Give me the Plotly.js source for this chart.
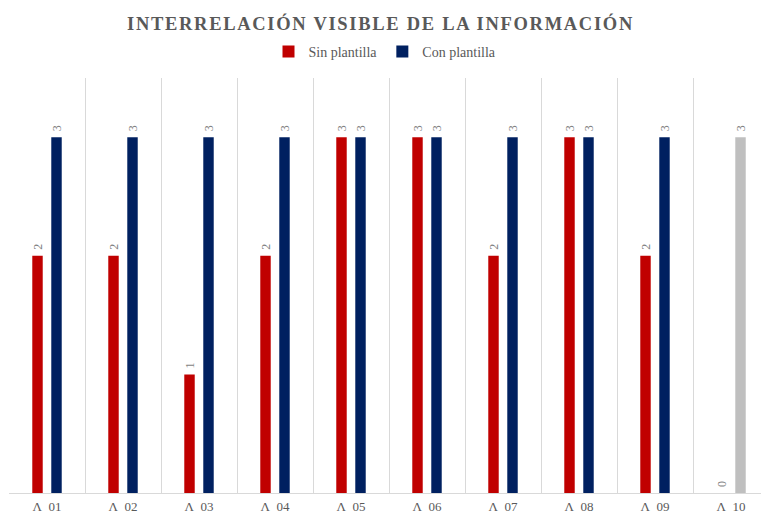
<!DOCTYPE html>
<html>
<head>
<meta charset="utf-8">
<script src="https://cdn.plot.ly/plotly-3.0.1.min.js"></script>
<style>
html,body{margin:0;padding:0;background:#fff;}
#chart{width:761px;height:516px;}
.gtitle{letter-spacing:1.7px;}
</style>
</head>
<body>
<div id="chart"></div>
<script>
var categories = ["Λ 01","Λ 02","Λ 03","Λ 04","Λ 05","Λ 06","Λ 07","Λ 08","Λ 09","Λ 10"];
var sinPlantilla = [2,2,1,2,3,3,2,3,2,0];
var conPlantilla = [3,3,3,3,3,3,3,3,3,3];
var seriesNames = ["Sin plantilla","Con plantilla"];
var chartTitle = "INTERRELACIÓN VISIBLE DE LA INFORMACIÓN";

var RED = "#C00000", NAVY = "#002060", GREY = "#BFBFBF";
var idx = categories.map(function(_, i){ return i; });
var conColors = conPlantilla.map(function(_, i){ return i === categories.length - 1 ? GREY : NAVY; });
var tickText = categories.map(function(c){ return c.replace(" ", "\u00a0\u00a0"); });
var lab = function(v){ return "\u00a0" + v; };

var labelFont = {family: "Liberation Serif, Times New Roman, serif", size: 12, color: "#7F7F7F"};

var traces = [
  {type: "bar", name: seriesNames[0], x: idx, y: sinPlantilla,
   marker: {color: RED}, text: sinPlantilla.map(lab), textposition: "outside",
   textangle: -90, textfont: labelFont, cliponaxis: false, hoverinfo: "x+y"},
  {type: "bar", name: seriesNames[1], x: idx, y: conPlantilla,
   marker: {color: conColors}, text: conPlantilla.map(lab), textposition: "outside",
   textangle: -90, textfont: labelFont, cliponaxis: false, hoverinfo: "x+y"}
];

var W = 761, mL = 9, mR = 0;
var catPx = 76;
var plotW = W - mL - mR;
var xMax = -0.5 + plotW / catPx;

var layout = {
  width: 761, height: 516,
  margin: {l: mL, r: mR, t: 78, b: 23, pad: 0},
  paper_bgcolor: "#ffffff", plot_bgcolor: "#ffffff",
  barmode: "group", bargap: 0.5, bargroupgap: 0.45,
  title: {text: chartTitle, x: 0.5, xanchor: "center", y: 0.955, yanchor: "middle",
          font: {family: "Liberation Serif, Times New Roman, serif", size: 18.5, color: "#595959", weight: "bold"}},
  showlegend: true,
  legend: {orientation: "h", x: 0.5, xanchor: "center", y: 1.063, yanchor: "middle",
           font: {family: "Liberation Serif, Times New Roman, serif", size: 14, color: "#595959"},
           itemwidth: 30, traceorder: "normal", bgcolor: "rgba(0,0,0,0)"},
  xaxis: {range: [-0.5, xMax], tickmode: "array", tickvals: idx, ticktext: tickText,
          showgrid: false, zeroline: false, showline: true, linecolor: "#D9D9D9", linewidth: 1,
          ticks: "", ticklabelstandoff: 1,
          tickfont: {family: "Liberation Serif, Times New Roman, serif", size: 13, color: "#595959"},
          minor: {tickmode: "linear", tick0: -0.5, dtick: 1, showgrid: true, gridcolor: "#D9D9D9", gridwidth: 1, ticks: ""},
          fixedrange: true},
  yaxis: {range: [0, 3.5], showticklabels: false, showgrid: false, zeroline: false, showline: false, ticks: "", fixedrange: true}
};

Plotly.newPlot("chart", traces, layout, {displayModeBar: false, staticPlot: true});
</script>
</body>
</html>
